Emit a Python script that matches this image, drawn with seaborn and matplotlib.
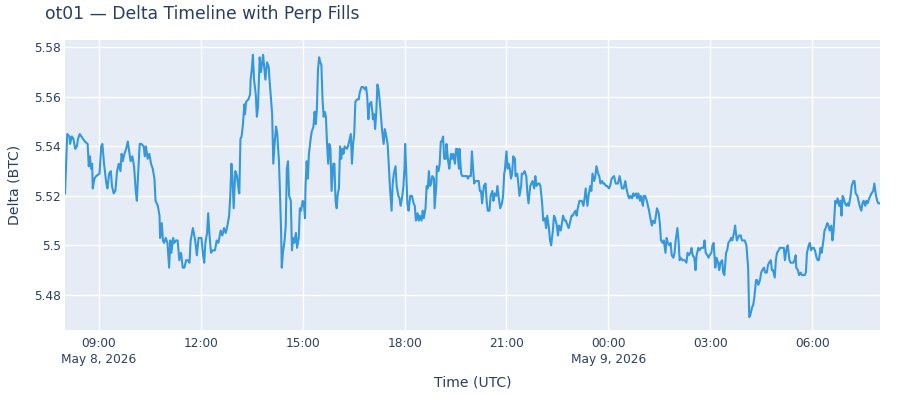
import numpy as np
import pandas as pd
import matplotlib
matplotlib.use("Agg")
import matplotlib.pyplot as plt
import matplotlib.dates as mdates
import seaborn as sns

# ---- data: minutes after 2026-05-08 08:00 UTC and delta (BTC) ----
minutes_a = [0,4,8,9,12,15,18,21,23,26,29,32,35,40,42,44,46,48,49,52,55,61,64,66,69,73,75,78,81,83,
             86,89,92,95,98,100,102,105,108,111,114,116,119,122,125,127,129,132,135,139,141,143,146,149,152,
             155,158,160,164,167,168,171,173,175,178,181,184,186,188,191,193,196,199,202,205,208,211,214,217,220,
             222,226,230,233,236]
delta_a = [5.521,5.545,5.544,5.541,5.544,5.543,5.539,5.540,5.543,5.545,5.544,5.543,5.542,5.541,5.532,
           5.536,5.531,5.533,5.523,5.527,5.528,5.529,5.540,5.541,5.533,5.525,5.523,5.529,5.530,5.524,
           5.521,5.522,5.530,5.533,5.530,5.537,5.534,5.537,5.539,5.542,5.537,5.534,5.536,5.532,5.522,
           5.518,5.528,5.541,5.541,5.540,5.536,5.540,5.535,5.537,5.533,5.531,5.527,5.518,5.516,5.512,
           5.503,5.509,5.502,5.501,5.503,5.501,5.491,5.502,5.497,5.503,5.501,5.502,5.502,5.494,5.497,
           5.491,5.491,5.494,5.494,5.493,5.502,5.507,5.502,5.496,5.503]

minutes_b = [241,244,246,248,251,253,255,258,261,265,268,271,275,278,281,284,287,290,292,294,
             296,298,301,304,307,308,310,312,314,317,318,320,324,327,328,330,332,334,337,339,
             341,344,346,348,350,352,354,357,360,361,364,366,368,371,373,375,378,380,382,383,
             385,388,390,392,394,396,399,401,403,405,408,410,413,415,417,420,422,424,425,427,
             429,431,434,436,439,441,443,445,447,449,451,453,455,457,459,461,463,465,467,469,
             471,474,476,478]
delta_b = [5.503,5.496,5.493,5.501,5.505,5.513,5.505,5.497,5.498,5.498,5.502,5.501,5.506,5.504,5.507,
           5.505,5.508,5.512,5.520,5.533,5.527,5.515,5.530,5.528,5.522,5.521,5.543,5.544,5.548,5.557,
           5.553,5.558,5.559,5.561,5.567,5.571,5.577,5.567,5.561,5.552,5.556,5.576,5.570,5.573,5.577,
           5.572,5.567,5.574,5.572,5.568,5.559,5.553,5.533,5.543,5.548,5.545,5.534,5.520,5.504,5.491,
           5.497,5.502,5.508,5.531,5.534,5.520,5.518,5.498,5.503,5.501,5.505,5.499,5.503,5.515,5.514,
           5.518,5.517,5.511,5.524,5.534,5.527,5.537,5.543,5.546,5.548,5.554,5.549,5.555,5.571,5.576,
           5.574,5.573,5.559,5.552,5.554,5.552,5.541,5.533,5.541,5.539,5.522,5.533,5.533,5.518]

minutes_c = [480,482,484,486,488,490,492,494,498,500,503,505,507,509,511,513,516,519,521,524,
             527,530,532,534,536,538,541,543,544,546,548,550,552,554,557,558,560,563,565,567,
             570,572,574,577,579,581,584,586,589,591,593,596,598,600,601,603,605,607,610,613,
             616,618,620,623,625,627,630,632,634,637,639,641,643,645,647,649,652,653,656,657,
             660,662,664,666,668,670,673,674,677,679,682,684,686,689,691,693,696,697,700,702,
             705,707,710,712,714,717]
delta_c = [5.515,5.521,5.523,5.540,5.535,5.539,5.537,5.540,5.539,5.540,5.543,5.545,5.533,5.541,5.545,
           5.558,5.559,5.559,5.562,5.564,5.564,5.563,5.564,5.560,5.551,5.557,5.558,5.554,5.551,5.553,
           5.547,5.554,5.565,5.563,5.556,5.553,5.547,5.541,5.547,5.545,5.541,5.533,5.524,5.514,5.525,
           5.529,5.532,5.524,5.520,5.519,5.516,5.520,5.524,5.532,5.541,5.529,5.517,5.514,5.520,5.520,
           5.517,5.516,5.510,5.513,5.510,5.512,5.510,5.514,5.511,5.515,5.524,5.523,5.530,5.524,5.525,
           5.528,5.527,5.515,5.524,5.532,5.530,5.533,5.542,5.542,5.544,5.535,5.535,5.541,5.534,5.531,
           5.537,5.535,5.537,5.533,5.539,5.539,5.531,5.539,5.529,5.528,5.528,5.528,5.528,5.527,5.528,
           5.528]

minutes_d = [719,721,723,725,728,731,733,735,737,740,743,745,747,750,752,755,757,759,762,764,
             766,769,772,774,776,777,780,782,784,786,788,790,792,795,796,799,801,803,806,807,
             810,812,815,817,819,822,824,826,829,831,833,836,838,840,843,845,848,850,852,855,
             857,859,862,864,866,869,871,873,876,878,880,883,885,888,890,892,895,897,899,902,
             904,906,909,911,913,916,918,920,923,925,928,930,932,935,937,939,942,944,946,949,
             951,953,956,958]
delta_d = [5.538,5.531,5.525,5.526,5.526,5.526,5.522,5.522,5.517,5.524,5.525,5.518,5.514,5.514,5.520,
           5.522,5.518,5.521,5.520,5.524,5.520,5.515,5.517,5.520,5.529,5.530,5.538,5.531,5.533,5.531,
           5.527,5.529,5.536,5.535,5.528,5.529,5.525,5.520,5.524,5.529,5.529,5.530,5.528,5.521,5.517,
           5.524,5.525,5.526,5.523,5.528,5.524,5.525,5.525,5.524,5.517,5.510,5.511,5.507,5.512,5.507,
           5.502,5.500,5.506,5.512,5.511,5.508,5.504,5.508,5.506,5.509,5.512,5.510,5.510,5.508,5.507,
           5.509,5.512,5.512,5.513,5.514,5.512,5.515,5.518,5.518,5.518,5.516,5.519,5.523,5.516,5.520,
           5.524,5.522,5.529,5.526,5.528,5.532,5.529,5.528,5.525,5.526,5.525,5.525,5.524,5.524]

minutes_e = [961,963,966,970,973,977,980,984,987,990,992,995,997,999,1002,1004,1006,1009,1011,1013,
             1016,1018,1021,1023,1025,1028,1030,1032,1035,1037,1039,1042,1044,1046,1049,1051,1053,1056,1058,1061,
             1063,1065,1068,1070,1072,1075,1077,1079,1082,1084,1086,1088,1091,1093,1095,1098,1100,1102,1105,1107,
             1109,1112,1114,1116,1119,1121,1124,1126,1128,1130,1132,1135,1137,1139,1142,1144,1146,1149,1151,1154,
             1156,1158,1161,1163,1165,1168,1170,1172,1175,1177,1179,1182,1184,1187,1189,1191,1194,1196,1198]
delta_e = [5.523,5.524,5.527,5.528,5.525,5.525,5.528,5.523,5.523,5.526,5.523,5.520,5.519,5.520,5.519,
           5.521,5.520,5.521,5.519,5.521,5.518,5.520,5.516,5.520,5.520,5.518,5.516,5.514,5.510,5.508,
           5.510,5.509,5.512,5.515,5.513,5.509,5.502,5.501,5.502,5.497,5.503,5.501,5.500,5.501,5.496,
           5.495,5.497,5.502,5.507,5.502,5.494,5.495,5.494,5.494,5.494,5.493,5.497,5.496,5.497,5.499,
           5.496,5.495,5.490,5.496,5.499,5.498,5.499,5.499,5.499,5.502,5.497,5.496,5.495,5.496,5.497,
           5.500,5.501,5.491,5.495,5.493,5.490,5.493,5.494,5.489,5.488,5.497,5.498,5.501,5.502,5.503,
           5.502,5.505,5.508,5.502,5.503,5.504,5.504,5.502,5.502]

minutes_f = [1201,1204,1207,1208,1209,1211,1214,1216,1218,1221,1223,1225,1228,1230,1232,1235,1237,1240,1242,1244,
             1247,1249,1251,1254,1256,1258,1261,1263,1265,1268,1270,1272,1275,1277,1280,1282,1284,1287,1289,1291,
             1292,1295,1297,1300,1302,1304,1307,1309,1311,1314,1316,1318,1321,1323,1325,1328,1330,1332,1335,1337,
             1340,1342,1344,1347,1349,1351,1354,1356,1358,1361,1363,1365,1368,1370,1372,1374,1376,1378,1381,1383,
             1385,1388,1390,1393,1395,1397,1400,1402,1404,1407,1409,1411,1414,1416,1418,1421,1423,1425,1428,1430,
             1433,1435,1437,1439]
delta_f = [5.502,5.500,5.491,5.481,5.471,5.472,5.475,5.476,5.479,5.486,5.486,5.484,5.486,5.489,5.490,
           5.491,5.489,5.489,5.492,5.493,5.494,5.490,5.490,5.487,5.494,5.497,5.498,5.499,5.499,5.499,
           5.499,5.494,5.499,5.500,5.494,5.493,5.493,5.493,5.494,5.496,5.491,5.490,5.488,5.489,5.488,
           5.488,5.488,5.489,5.497,5.500,5.501,5.498,5.499,5.499,5.498,5.495,5.494,5.494,5.499,5.497,
           5.502,5.506,5.507,5.509,5.508,5.506,5.508,5.502,5.506,5.518,5.517,5.519,5.516,5.518,5.512,
           5.520,5.519,5.517,5.516,5.517,5.516,5.520,5.524,5.526,5.526,5.521,5.520,5.518,5.516,5.514,
           5.517,5.518,5.516,5.518,5.517,5.519,5.520,5.521,5.522,5.525,5.520,5.518,5.517,5.517]

start_time = "2026-05-08 08:00"
end_time = "2026-05-09 08:00"
y_ticks = [5.48, 5.50, 5.52, 5.54, 5.56, 5.58]
title_text = "ot01 \u2014 Delta Timeline with Perp Fills"
x_label = "Time (UTC)"
y_label = "Delta (BTC)"

# ---- assemble ----
minutes = minutes_a + minutes_b + minutes_c + minutes_d + minutes_e + minutes_f
deltas = delta_a + delta_b + delta_c + delta_d + delta_e + delta_f
df = pd.DataFrame({
    "time": pd.Timestamp(start_time) + pd.to_timedelta(minutes, unit="min"),
    "delta": deltas,
})

TEXT = "#2a3f5f"
plt.rcParams["font.family"] = ["DejaVu Sans"]

fig = plt.figure(figsize=(9, 4), dpi=100)
ax = fig.add_axes([65 / 900, 1 - 330 / 400, 815 / 900, 290 / 400])
ax.set_facecolor("#E5ECF6")

sns.lineplot(data=df, x="time", y="delta", ax=ax, color="#3498db",
             linewidth=1.5, estimator=None, sort=False)

ax.set_xlim(pd.Timestamp(start_time), pd.Timestamp(end_time))
ax.set_ylim(5.4658, 5.5830)
ax.set_yticks(y_ticks)
ax.set_yticklabels([("%.2f" % v).rstrip("0").rstrip(".") for v in y_ticks])

ax.xaxis.set_major_locator(mdates.HourLocator(byhour=[0, 3, 6, 9, 12, 15, 18, 21]))

def fmt(x, pos):
    d = mdates.num2date(x)
    s = d.strftime("%H:%M")
    if pos == 0 or d.hour == 0:
        s += "\n" + d.strftime("%b ") + str(d.day) + d.strftime(", %Y")
    return s

ax.xaxis.set_major_formatter(plt.FuncFormatter(fmt))

ax.grid(True, color="white", linewidth=1.0)
ax.set_axisbelow(True)
for sp in ax.spines.values():
    sp.set_visible(False)
ax.tick_params(axis="both", length=0, colors=TEXT, labelsize=8.7)
ax.tick_params(axis="x", pad=5)
ax.tick_params(axis="y", pad=3)
for lbl in ax.get_xticklabels():
    lbl.set_linespacing(1.35)

ax.set_xlabel(x_label, color=TEXT, fontsize=10.1, va="center")
ax.xaxis.set_label_coords(0.5, -(382 - 330) / 290)
ax.set_ylabel(y_label, color=TEXT, fontsize=10.1, va="center")
ax.yaxis.set_label_coords(-(65 - 15) / 815, 0.5)

fig.text(45 / 900, 1 - 14 / 400, title_text, color=TEXT, fontsize=12.35,
         ha="left", va="center")

fig.savefig("out.png", dpi=100, facecolor="white")
